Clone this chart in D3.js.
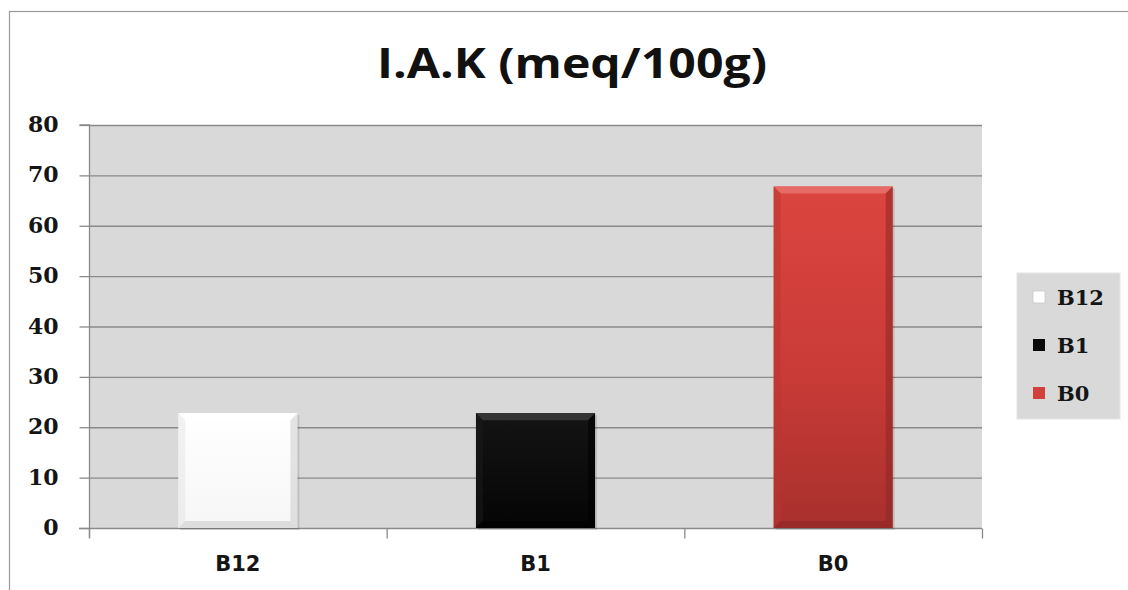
<!DOCTYPE html>
<html>
<head>
<meta charset="utf-8">
<script src="https://cdn.jsdelivr.net/npm/d3@7/dist/d3.min.js"></script>
<style>
  html, body { margin: 0; padding: 0; background: #fff; }
  svg { display: block; }
</style>
</head>
<body>
<svg id="chart" width="1128" height="590"></svg>
<script>
// Chart data
const titleText = "I.A.K (meq/100g)";
const categories = ["B12", "B1", "B0"];
const values = [22.8, 22.8, 67.8];
const yTicks = [0, 10, 20, 30, 40, 50, 60, 70, 80];
const barColors = ["#ffffff", "#0a0a0a", "#d2403c"];

const svg = d3.select("#chart");
const W = 1128, H = 590;
const plot = { left: 89, right: 982, top: 125, bottom: 528 };

const defs = svg.append("defs");

// Gradients giving each bar its shaded look
const grads = [
  { id: "g0", stops: [["0%", "#ffffff"], ["100%", "#f6f6f6"]] },
  { id: "g1", stops: [["0%", "#141414"], ["100%", "#050505"]] },
  { id: "g2", stops: [["0%", "#dc4540"], ["55%", "#c93b37"], ["100%", "#a8302d"]] }
];
grads.forEach(g => {
  const lg = defs.append("linearGradient").attr("id", g.id)
    .attr("x1", 0).attr("y1", 0).attr("x2", 0).attr("y2", 1);
  g.stops.forEach(s => lg.append("stop").attr("offset", s[0]).attr("stop-color", s[1]));
});

// Outer chart frame
svg.append("rect")
  .attr("x", 9.5).attr("y", 11.5).attr("width", W).attr("height", H)
  .attr("fill", "#fff").attr("stroke", "#9a9a9a").attr("stroke-width", 1.2);

// Scales
const x = d3.scaleBand().domain(categories).range([plot.left, plot.right]).padding(0);
const y = d3.scaleLinear().domain([0, 80]).range([plot.bottom, plot.top]);
const barFrac = 0.4;

// Plot area background
svg.append("rect")
  .attr("x", plot.left).attr("y", plot.top)
  .attr("width", plot.right - plot.left).attr("height", plot.bottom - plot.top)
  .attr("fill", "#d9d9d9");

// Horizontal gridlines
svg.append("g")
  .selectAll("line").data(yTicks.filter(t => t > 0)).join("line")
  .attr("x1", plot.left).attr("x2", plot.right)
  .attr("y1", d => y(d) + 0.5).attr("y2", d => y(d) + 0.5)
  .attr("stroke", "#8a8a8a").attr("stroke-width", 1.3);

// Y axis
const yAxis = svg.append("g")
  .attr("transform", `translate(${plot.left + 0.5},0)`)
  .call(d3.axisLeft(y).tickValues(yTicks).tickSize(10).tickPadding(21).tickFormat(d3.format("d")));
yAxis.select(".domain").attr("stroke", "#8a8a8a").attr("stroke-width", 1.3)
  .attr("d", `M-10,${plot.top}H0V${plot.bottom + 10}`);
yAxis.selectAll(".tick line").attr("stroke", "#8a8a8a").attr("stroke-width", 1.3);
yAxis.selectAll(".tick text")
  .attr("font-family", "'DejaVu Serif', serif").attr("font-weight", "bold")
  .attr("font-size", 22).attr("fill", "#151515").attr("dy", "0.3em");

// X axis (ticks at category boundaries)
const boundaries = categories.map(c => x(c)).concat([plot.right]);
const xAxis = svg.append("g").attr("transform", `translate(0,${plot.bottom + 0.5})`);
xAxis.append("line")
  .attr("x1", plot.left - 10).attr("x2", plot.right)
  .attr("stroke", "#8a8a8a").attr("stroke-width", 1.3);
xAxis.selectAll("line.tk").data(boundaries).join("line").attr("class", "tk")
  .attr("x1", d => d + 0.5).attr("x2", d => d + 0.5).attr("y1", 0).attr("y2", 10)
  .attr("stroke", "#8a8a8a").attr("stroke-width", 1.3);
xAxis.selectAll("text").data(categories).join("text")
  .attr("x", d => x(d) + x.bandwidth() / 2).attr("y", 42)
  .attr("text-anchor", "middle")
  .attr("font-family", "'DejaVu Sans', sans-serif").attr("font-weight", "bold")
  .attr("font-size", 21).attr("fill", "#151515")
  .text(d => d);

// Bars with a bevelled edge
const bars = svg.append("g");
categories.forEach((c, i) => {
  const bw = x.bandwidth() * barFrac;
  const x0 = x(c) + (x.bandwidth() - bw) / 2;
  const y0 = y(values[i]);
  const h = y(0) - y0;
  const g = bars.append("g");
  // soft shadow
  g.append("rect")
    .attr("x", x0 + 2).attr("y", y0 + 2).attr("width", bw).attr("height", h)
    .attr("fill", "#000").attr("opacity", 0.12);
  g.append("rect")
    .attr("x", x0).attr("y", y0).attr("width", bw).attr("height", h)
    .attr("fill", `url(#g${i})`);
  const b = 7;
  const hi = i === 0 ? "#ffffff" : i === 1 ? "#3a3a3a" : "#e8716c";
  const lo = i === 0 ? "#c4c4c4" : i === 1 ? "#000000" : "#8e2725";
  const side = i === 0 ? "#dadada" : i === 1 ? "#1c1c1c" : "#b8352f";
  // top bevel
  g.append("path")
    .attr("d", `M${x0},${y0}H${x0 + bw}L${x0 + bw - b},${y0 + b}H${x0 + b}Z`)
    .attr("fill", hi).attr("opacity", 0.85);
  // left bevel
  g.append("path")
    .attr("d", `M${x0},${y0}L${x0 + b},${y0 + b}V${y0 + h - b}L${x0},${y0 + h}Z`)
    .attr("fill", side).attr("opacity", i === 0 ? 0.35 : 0.5);
  // right bevel
  g.append("path")
    .attr("d", `M${x0 + bw},${y0}L${x0 + bw - b},${y0 + b}V${y0 + h - b}L${x0 + bw},${y0 + h}Z`)
    .attr("fill", lo).attr("opacity", i === 0 ? 0.45 : 0.55);
  // bottom bevel
  g.append("path")
    .attr("d", `M${x0},${y0 + h}L${x0 + b},${y0 + h - b}H${x0 + bw - b}L${x0 + bw},${y0 + h}Z`)
    .attr("fill", lo).attr("opacity", i === 0 ? 0.5 : 0.6);
});

// Title
svg.append("text")
  .attr("x", 572).attr("y", 78)
  .attr("text-anchor", "middle")
  .attr("font-family", "'Open Sans', sans-serif").attr("font-weight", "bold")
  .attr("font-size", 42).attr("fill", "#111")
  .attr("textLength", 390).attr("lengthAdjust", "spacingAndGlyphs")
  .text(titleText);

// Legend
const legend = svg.append("g");
legend.append("rect")
  .attr("x", 1017).attr("y", 273).attr("width", 103).attr("height", 146)
  .attr("fill", "#d9d9d9").attr("stroke", "#e4e4e4");
const legY = d3.scalePoint().domain(categories).range([297, 393]);
categories.forEach((c, i) => {
  const cy = legY(c);
  legend.append("rect")
    .attr("x", 1033).attr("y", cy - 6).attr("width", 12).attr("height", 12)
    .attr("fill", i === 0 ? "#ffffff" : barColors[i])
    .attr("stroke", i === 0 ? "#c8c8c8" : "none").attr("stroke-width", 0.8);
  legend.append("text")
    .attr("x", 1057).attr("y", cy).attr("dy", "0.36em")
    .attr("font-family", "'DejaVu Serif', serif").attr("font-weight", "bold")
    .attr("font-size", 21).attr("fill", "#151515")
    .text(c);
});
</script>
</body>
</html>
